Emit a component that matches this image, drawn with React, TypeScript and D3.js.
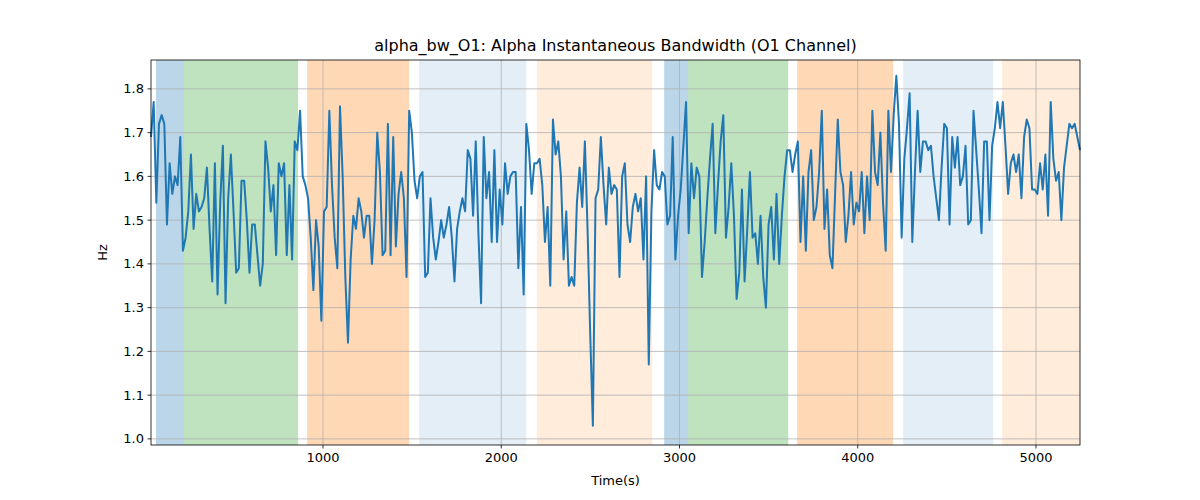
import React from 'react';
import * as d3 from 'd3';

const T_START = 35;
const T_END = 5247;

const values: number[] = [
  1.69, 1.77, 1.54, 1.72, 1.74, 1.72, 1.49, 1.63, 1.56, 1.60, 1.58, 1.69, 1.43, 1.46, 1.52, 1.65,
  1.48, 1.56, 1.52, 1.53, 1.55, 1.62, 1.48, 1.36, 1.63, 1.33, 1.54, 1.67, 1.31, 1.55, 1.65, 1.52,
  1.38, 1.39, 1.59, 1.59, 1.50, 1.38, 1.49, 1.49, 1.42, 1.35, 1.40, 1.68, 1.62, 1.52, 1.58, 1.42,
  1.63, 1.60, 1.63, 1.42, 1.58, 1.41, 1.68, 1.66, 1.75, 1.60, 1.58, 1.55, 1.46, 1.34, 1.50, 1.44,
  1.27, 1.52, 1.53, 1.75, 1.58, 1.46, 1.39, 1.76, 1.60, 1.37, 1.22, 1.41, 1.51, 1.48, 1.55, 1.52,
  1.46, 1.51, 1.51, 1.40, 1.50, 1.70, 1.61, 1.42, 1.43, 1.72,
  1.42, 1.69, 1.44, 1.56, 1.61, 1.55, 1.37, 1.75, 1.70, 1.59, 1.55, 1.60, 1.61, 1.37, 1.38, 1.55,
  1.46, 1.41, 1.45, 1.50, 1.46, 1.49, 1.53, 1.46, 1.36, 1.48, 1.52, 1.55, 1.52, 1.66, 1.64, 1.51,
  1.68, 1.47, 1.31, 1.69, 1.55, 1.61, 1.45, 1.66, 1.45, 1.57, 1.49, 1.63, 1.56, 1.60, 1.61, 1.61,
  1.39, 1.53, 1.33, 1.72, 1.66, 1.56, 1.63, 1.63, 1.64, 1.58, 1.45, 1.53, 1.35, 1.73, 1.65, 1.68,
  1.60, 1.41, 1.52, 1.35, 1.37, 1.35, 1.54, 1.62, 1.53, 1.68, 1.48, 1.24, 1.03, 1.55, 1.57, 1.69,
  1.58, 1.49, 1.62, 1.56, 1.58, 1.57, 1.37, 1.60,
  1.63, 1.49, 1.45, 1.53, 1.56, 1.52, 1.55, 1.41, 1.60, 1.17, 1.52, 1.66, 1.58, 1.57, 1.61, 1.60,
  1.49, 1.51, 1.69, 1.41, 1.51, 1.57, 1.67, 1.77, 1.47, 1.63, 1.55, 1.62, 1.60, 1.37, 1.45, 1.55,
  1.64, 1.72, 1.47, 1.58, 1.68, 1.74, 1.46, 1.53, 1.63, 1.51, 1.32, 1.38, 1.57, 1.36, 1.48, 1.61,
  1.46, 1.47, 1.40, 1.51, 1.37, 1.30, 1.49, 1.53, 1.41, 1.56, 1.40, 1.51, 1.60, 1.66, 1.66, 1.61,
  1.65, 1.68, 1.45, 1.60, 1.43, 1.61, 1.66, 1.50, 1.53, 1.61, 1.75, 1.48, 1.57, 1.42, 1.39, 1.56,
  1.73, 1.61, 1.58, 1.45, 1.51, 1.61, 1.49, 1.54,
  1.52, 1.61, 1.47, 1.60, 1.50, 1.75, 1.61, 1.58, 1.70, 1.54, 1.43, 1.75, 1.61, 1.74, 1.83, 1.72,
  1.46, 1.64, 1.71, 1.79, 1.45, 1.61, 1.75, 1.61, 1.68, 1.68, 1.66, 1.67, 1.60, 1.55, 1.50, 1.62,
  1.72, 1.71, 1.49, 1.69, 1.62, 1.69, 1.58, 1.60, 1.67, 1.49, 1.50, 1.75, 1.66, 1.57, 1.47, 1.68,
  1.68, 1.50, 1.67, 1.71, 1.77, 1.71, 1.77, 1.67, 1.56, 1.63, 1.65, 1.61, 1.65, 1.55, 1.69, 1.73,
  1.71, 1.57, 1.57, 1.56, 1.63, 1.57, 1.65, 1.51, 1.77, 1.64, 1.59, 1.61, 1.50, 1.62, 1.67, 1.72,
  1.71, 1.72, 1.69, 1.66,
];

// [start, end, colour, opacity]
const bands: [number, number, string, number][] = [
  [63, 220, '#1f77b4', 0.3],
  [220, 860, '#2ca02c', 0.3],
  [911, 1483, '#ff7f0e', 0.3],
  [1539, 2140, '#1f77b4', 0.12],
  [2200, 2847, '#ff7f0e', 0.15],
  [2914, 3049, '#1f77b4', 0.3],
  [3049, 3610, '#2ca02c', 0.3],
  [3660, 4199, '#ff7f0e', 0.3],
  [4255, 4760, '#1f77b4', 0.12],
  [4810, 5247, '#ff7f0e', 0.15],
];

const xTicks = [1000, 2000, 3000, 4000, 5000];
const yTicks = [1.0, 1.1, 1.2, 1.3, 1.4, 1.5, 1.6, 1.7, 1.8];

const W = 1200, H = 500;
const M = { left: 151, right: 120, top: 60, bottom: 55 };

export default function App() {
  const iw = W - M.left - M.right;
  const ih = H - M.top - M.bottom;
  const step = (T_END - T_START) / (values.length - 1);
  const data = values.map((v, i) => ({ t: T_START + i * step, v }));

  const x = d3.scaleLinear().domain([T_START, T_END]).range([0, iw]);
  const y = d3.scaleLinear().domain([0.986, 1.866]).range([ih, 0]);
  const line = d3.line<{ t: number; v: number }>().x(d => x(d.t)).y(d => y(d.v));

  const font = 'DejaVu Sans, sans-serif';
  return (
    <svg width={W} height={H} style={{ position: 'absolute', left: 0, top: 0, background: '#fff' }} fontFamily={font}>
      <g transform={`translate(${M.left},${M.top})`}>
        {bands.map(([a, b, c, o], i) => (
          <rect key={i} x={x(a)} y={0} width={x(b) - x(a)} height={ih} fill={c} opacity={o} />
        ))}
        {xTicks.map(t => (
          <line key={t} x1={x(t)} x2={x(t)} y1={0} y2={ih} stroke="#b0b0b0" strokeWidth={0.8} />
        ))}
        {yTicks.map(t => (
          <line key={t} x1={0} x2={iw} y1={y(t)} y2={y(t)} stroke="#b0b0b0" strokeWidth={0.8} />
        ))}
        <path d={line(data) || ''} fill="none" stroke="#1f77b4" strokeWidth={2} strokeLinejoin="round" />
        <rect x={0} y={0} width={iw} height={ih} fill="none" stroke="#000" strokeWidth={0.8} />
        {xTicks.map(t => (
          <g key={t} transform={`translate(${x(t)},${ih})`}>
            <line y2={3.5} stroke="#000" strokeWidth={0.8} />
            <text y={17} textAnchor="middle" fontSize={13}>{t}</text>
          </g>
        ))}
        {yTicks.map(t => (
          <g key={t} transform={`translate(0,${y(t)})`}>
            <line x2={-3.5} stroke="#000" strokeWidth={0.8} />
            <text x={-7} dy="0.35em" textAnchor="end" fontSize={13}>{t.toFixed(1)}</text>
          </g>
        ))}
        <text x={iw / 2} y={ih + 40} textAnchor="middle" fontSize={13}>Time(s)</text>
        <text transform={`translate(${-44},${ih / 2}) rotate(-90)`} textAnchor="middle" fontSize={13}>Hz</text>
        <text x={iw / 2} y={-9} textAnchor="middle" fontSize={16}>alpha_bw_O1: Alpha Instantaneous Bandwidth (O1 Channel)</text>
      </g>
    </svg>
  );
}
